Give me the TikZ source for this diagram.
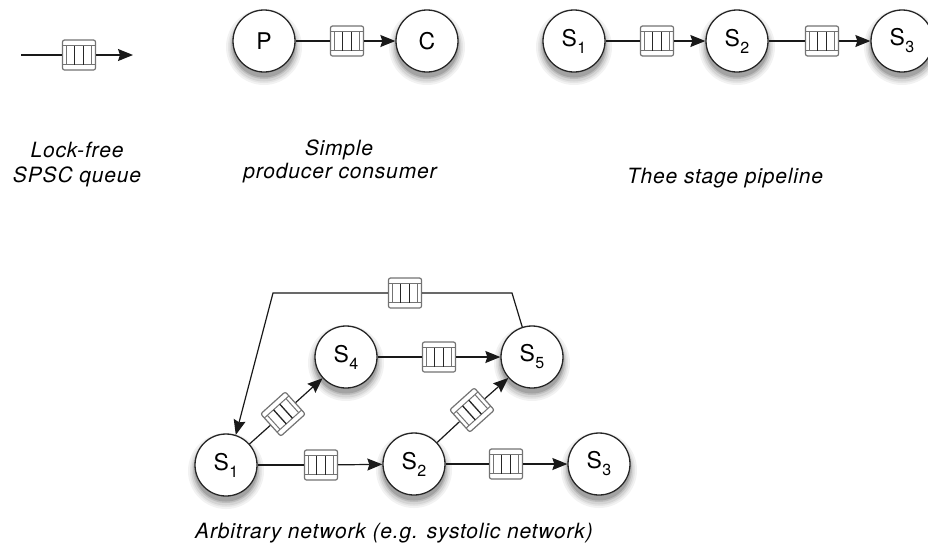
\documentclass[tikz,border=0pt]{standalone}
\usepackage{fontspec}
\setmainfont{TeX Gyre Heros}
\newfontfamily\capfont[LetterSpace=4]{TeX Gyre Heros}
\usetikzlibrary{arrows.meta,calc}

% subscripted stage name, e.g. S_1
\newcommand\stg[1]{S\kern0.5pt\raisebox{-7pt}{\fontsize{16pt}{16pt}\selectfont #1}}

% inner strokes of a queue icon: top and bottom bands, inner sides, two dividers
\newcommand\qlines[2]{%
  \begin{scope}[shift={(#1.center)}, rotate=#2]
    \draw[black!55, line width=1pt] (-16.5,-9.5) -- (16.5,-9.5) (-16.5,9.5) -- (16.5,9.5)
      (-12.5,-9.5) -- (-12.5,9.5) (12.5,-9.5) -- (12.5,9.5);
    \draw[black!85, line width=1.3pt] (-4.2,-9.5) -- (-4.2,9.5) (4.2,-9.5) -- (4.2,9.5);
  \end{scope}}

% a stage circle with a soft shadow beneath it: name, x, y, label
\newcommand\stagenode[4]{%
  \node[halo, minimum size=76pt, fill=black!5]  (#1-h1) at (#2,#3+6) {};
  \node[halo, minimum size=72pt, fill=black!10] (#1-h2) at (#2,#3+6) {};
  \node[halo, minimum size=69pt, fill=black!17] (#1-h3) at (#2,#3+6) {};
  \node[halo, minimum size=66pt, fill=black!26] (#1-h4) at (#2,#3+5) {};
  \node[halo, minimum size=63pt, fill=black!36] (#1-h5) at (#2,#3+5) {};
  \node[stage] (#1) at (#2,#3) {#4};}

\tikzset{
  halo/.style={circle, draw=none, inner sep=0pt},
  stage/.style={circle, draw=black!85, line width=1.3pt, fill=white,
    minimum size=62pt, inner sep=0pt, font=\fontsize{23pt}{23pt}\selectfont},
  queue/.style={rectangle, rounded corners=2pt, draw=black!55, line width=1.2pt,
    fill=white, minimum width=33pt, minimum height=30pt, inner sep=0pt},
  link/.style={draw=black!90, line width=1.2pt},
  flow/.style={link, -{Stealth[length=15pt,width=12pt,inset=2pt]}},
  caption/.style={font=\capfont\itshape\fontsize{21pt}{21pt}\selectfont,
    anchor=base, inner sep=0pt}
}

\begin{document}
\begin{tikzpicture}[x=1pt, y=-1pt]
\useasboundingbox (0,0) rectangle (928,550);
\clip (0,0) rectangle (928,550);

% --- single queue
\coordinate (qin) at (21,55);
\node[queue] (q0) at (79,55) {};
\coordinate (qout) at (133,55);
\draw[link] (qin) -- (q0);
\draw[flow] (q0) -- (qout);
\qlines{q0}{0}

% --- producer / consumer
\stagenode{P}{264}{41}{P}
\stagenode{C}{427}{41}{C}
\node[queue] (qpc) at (347,41) {};
\draw[link] (P) -- (qpc);
\draw[flow] (qpc) -- (C);
\qlines{qpc}{0}

% --- three stage pipeline
\stagenode{A1}{574}{41}{\stg{1}}
\stagenode{A2}{737}{41}{\stg{2}}
\stagenode{A3}{902}{41}{\stg{3}}
\node[queue] (qa1) at (657,41) {};
\node[queue] (qa2) at (822,41) {};
\draw[link] (A1) -- (qa1);
\draw[flow] (qa1) -- (A2);
\draw[link] (A2) -- (qa2);
\draw[flow] (qa2) -- (A3);
\qlines{qa1}{0}
\qlines{qa2}{0}

% --- captions
\node[caption] (c1a) at (77,157) {Lock-free};
\node[caption] (c1b) at (77,182) {SPSC queue};
\node[caption] (c2a) at (339,155) {Simple};
\node[caption] (c2b) at (340,178) {producer consumer};
\node[caption] (c3) at (725,183) {Thee stage pipeline};
\node[caption] (c4) at (394,538) {Arbitrary network (e.g. systolic network)};

% --- arbitrary network
\stagenode{S1}{226}{465}{\stg{1}}
\stagenode{S2}{414}{464}{\stg{2}}
\stagenode{S3}{599}{464}{\stg{3}}
\stagenode{S4}{346}{357}{\stg{4}}
\stagenode{S5}{532}{357}{\stg{5}}

\node[queue] (n12) at (321,465) {};
\node[queue] (n23) at (506,464) {};
\node[queue] (n45) at (439,357) {};
\node[queue, rotate=42] (n14) at (283,414) {};
\node[queue, rotate=42] (n25) at (472,410) {};
\node[queue] (n51) at (405,293) {};

\draw[link] (S1) -- (n12);  \draw[flow] (n12) -- (S2);
\draw[link] (S2) -- (n23);  \draw[flow] (n23) -- (S3);
\draw[link] (S4) -- (n45);  \draw[flow] (n45) -- (S5);
\draw[link] (S1) -- (n14);  \draw[flow] (n14) -- (S4);
\draw[link] (S2) -- (n25);  \draw[flow] (n25) -- (S5);

\coordinate (fbR) at (512,293);
\coordinate (fbL) at (273,293);
\draw[link] (S5.108) -- (fbR) -- (n51);
\draw[flow] (n51) -- (fbL) -- (S1.72);

\qlines{n12}{0}
\qlines{n23}{0}
\qlines{n45}{0}
\qlines{n14}{42}
\qlines{n25}{42}
\qlines{n51}{0}
\end{tikzpicture}
\end{document}
